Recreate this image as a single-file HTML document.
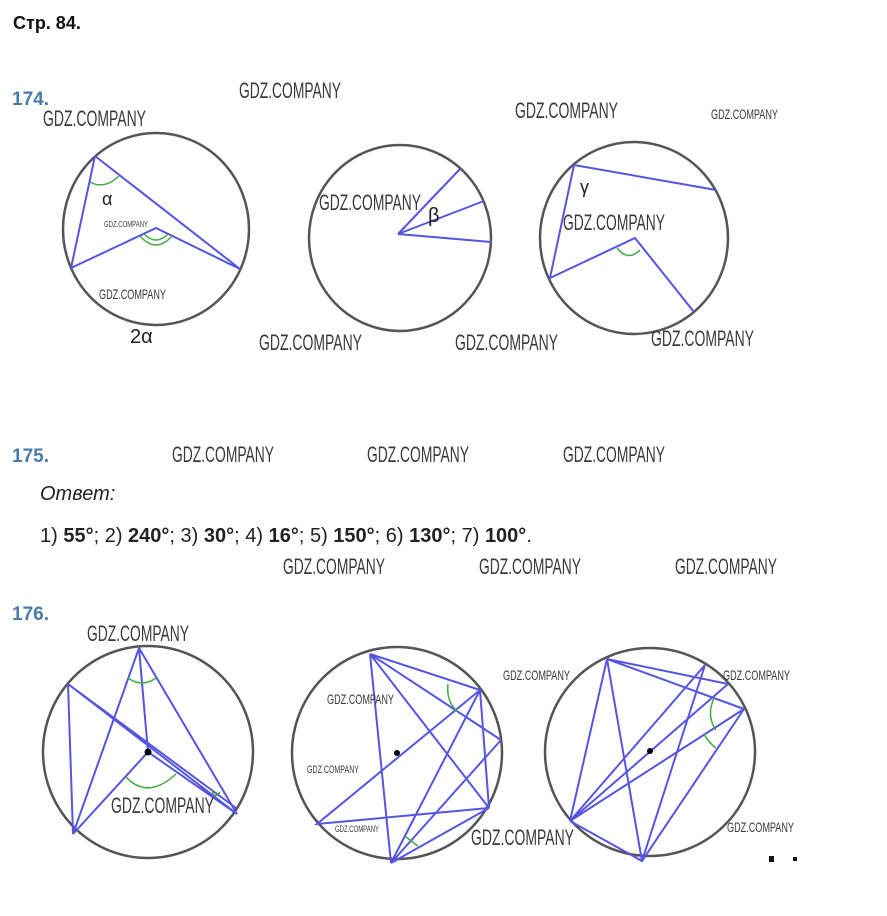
<!DOCTYPE html>
<html><head><meta charset="utf-8"><style>
html,body{margin:0;padding:0;background:#fff;width:887px;height:916px;overflow:hidden}
svg{position:absolute;left:0;top:0}
.w{font-family:"Liberation Sans",sans-serif;fill:#3a3a3a}
.b{font-family:"Liberation Sans",sans-serif;font-weight:bold;fill:#4a7aa8;font-size:19px}
.c{fill:none;stroke:#555;stroke-width:2.5}
.l{stroke:#5555e0;stroke-width:2;fill:none}
.g{stroke:#44aa44;stroke-width:1.5;fill:none}
</style></head><body>
<svg width="887" height="916" xmlns="http://www.w3.org/2000/svg">
<text x="13" y="29" font-family="Liberation Sans,sans-serif" font-weight="bold" font-size="18" fill="#111">Стр. 84.</text>
<text x="12" y="105" class="b">174.</text>
<text x="12" y="462" class="b">175.</text>
<text x="12" y="620" class="b">176.</text>
<text x="40" y="500" font-family="Liberation Sans,sans-serif" font-style="italic" font-size="20" fill="#222">Ответ:</text>
<text x="40" y="542" font-family="Liberation Sans,sans-serif" font-size="20" fill="#222">1) <tspan font-weight="bold">55°</tspan>; 2) <tspan font-weight="bold">240°</tspan>; 3) <tspan font-weight="bold">30°</tspan>; 4) <tspan font-weight="bold">16°</tspan>; 5) <tspan font-weight="bold">150°</tspan>; 6) <tspan font-weight="bold">130°</tspan>; 7) <tspan font-weight="bold">100°</tspan>.</text>

<!-- 174 -->
<ellipse class="c" cx="156" cy="229" rx="93" ry="96"/>
<path class="l" d="M95,156 L71,268 L156,228 L240,269 L95,156"/>
<path class="g" d="M90,182 Q104,190 119,176"/>
<path class="g" d="M140,236 Q156,254 172,236 M144,234 Q156,246 168,234"/>
<text x="102" y="205" font-family="Liberation Sans,sans-serif" font-size="18" fill="#222">α</text>
<text x="130" y="343" font-family="Liberation Sans,sans-serif" font-size="20" fill="#222">2α</text>

<ellipse class="c" cx="400" cy="238" rx="91" ry="93"/>
<path class="l" d="M460,169 L398,234 L484,201 M398,234 L491,242"/>
<text x="428" y="222" font-family="Liberation Sans,sans-serif" font-size="20" fill="#222">β</text>

<ellipse class="c" cx="634" cy="238" rx="94" ry="96"/>
<path class="l" d="M716,190 L574,165 L550,278 L635,238 L694,312"/>
<path class="g" d="M617,248 Q628,262 640,250"/>
<text x="580" y="193" font-family="Liberation Sans,sans-serif" font-size="18" fill="#222">γ</text>

<!-- 176 -->
<ellipse class="c" cx="148" cy="752" rx="105" ry="106"/>
<path class="l" d="M139,648 L73,834 L68,684 L237,814 L139,648 L148,752 M68,684 L236,808 M73,834 L148,752 L237,814"/>
<path class="g" d="M128,678 Q142,688 156,678 M126,777 Q148,800 176,774 M212,790 Q214,800 220,792"/>
<circle cx="148" cy="752" r="3.5" fill="#000"/>

<ellipse class="c" cx="397" cy="753" rx="105" ry="106"/>
<path class="l" d="M370,654 L391,863 M370,654 L489,808 M370,654 L501,740 M370,654 L480,690 L391,863 M480,690 L317,824 L489,808 L391,863 L501,740 M480,690 L489,808"/>
<path class="g" d="M448,684 Q446,702 458,712 M405,836 Q412,842 418,846"/>
<circle cx="397" cy="753" r="3" fill="#000"/>

<ellipse class="c" cx="650" cy="752" rx="105" ry="104"/>
<path class="l" d="M607,659 L728,684 M607,659 L744,709 M607,659 L570,821 M607,659 L642,861 M705,665 L570,821 M728,684 L570,821 M744,709 L570,821 M744,709 L642,861 L570,821 M705,665 L642,861"/>
<path class="g" d="M714,698 Q706,716 716,730 M704,734 Q708,742 716,748"/>
<circle cx="650" cy="751" r="3" fill="#000"/>
<rect x="769" y="856" width="5" height="6" fill="#111"/><rect x="793" y="857" width="4" height="4" fill="#111"/>

<!-- watermarks -->
<g class="w">
<text x="43" y="126" font-size="22" textLength="103" lengthAdjust="spacingAndGlyphs">GDZ.COMPANY</text>
<text x="239" y="98" font-size="22" textLength="102" lengthAdjust="spacingAndGlyphs">GDZ.COMPANY</text>
<text x="515" y="118" font-size="22" textLength="103" lengthAdjust="spacingAndGlyphs">GDZ.COMPANY</text>
<text x="711" y="119" font-size="14" textLength="67" lengthAdjust="spacingAndGlyphs">GDZ.COMPANY</text>
<text x="319" y="210" font-size="22" textLength="102" lengthAdjust="spacingAndGlyphs">GDZ.COMPANY</text>
<text x="104" y="227" font-size="8" textLength="44" lengthAdjust="spacingAndGlyphs">GDZ.COMPANY</text>
<text x="563" y="230" font-size="22" textLength="102" lengthAdjust="spacingAndGlyphs">GDZ.COMPANY</text>
<text x="99" y="299" font-size="14" textLength="67" lengthAdjust="spacingAndGlyphs">GDZ.COMPANY</text>
<text x="259" y="350" font-size="22" textLength="103" lengthAdjust="spacingAndGlyphs">GDZ.COMPANY</text>
<text x="455" y="350" font-size="22" textLength="103" lengthAdjust="spacingAndGlyphs">GDZ.COMPANY</text>
<text x="651" y="346" font-size="22" textLength="103" lengthAdjust="spacingAndGlyphs">GDZ.COMPANY</text>
<text x="172" y="462" font-size="22" textLength="102" lengthAdjust="spacingAndGlyphs">GDZ.COMPANY</text>
<text x="367" y="462" font-size="22" textLength="102" lengthAdjust="spacingAndGlyphs">GDZ.COMPANY</text>
<text x="563" y="462" font-size="22" textLength="102" lengthAdjust="spacingAndGlyphs">GDZ.COMPANY</text>
<text x="283" y="574" font-size="22" textLength="102" lengthAdjust="spacingAndGlyphs">GDZ.COMPANY</text>
<text x="479" y="574" font-size="22" textLength="102" lengthAdjust="spacingAndGlyphs">GDZ.COMPANY</text>
<text x="675" y="574" font-size="22" textLength="102" lengthAdjust="spacingAndGlyphs">GDZ.COMPANY</text>
<text x="87" y="641" font-size="22" textLength="102" lengthAdjust="spacingAndGlyphs">GDZ.COMPANY</text>
<text x="503" y="680" font-size="14" textLength="67" lengthAdjust="spacingAndGlyphs">GDZ.COMPANY</text>
<text x="723" y="680" font-size="14" textLength="67" lengthAdjust="spacingAndGlyphs">GDZ.COMPANY</text>
<text x="327" y="704" font-size="14" textLength="67" lengthAdjust="spacingAndGlyphs">GDZ.COMPANY</text>
<text x="307" y="773" font-size="11" textLength="52" lengthAdjust="spacingAndGlyphs">GDZ.COMPANY</text>
<text x="111" y="813" font-size="22" textLength="103" lengthAdjust="spacingAndGlyphs">GDZ.COMPANY</text>
<text x="335" y="832" font-size="9" textLength="44" lengthAdjust="spacingAndGlyphs">GDZ.COMPANY</text>
<text x="471" y="845" font-size="22" textLength="103" lengthAdjust="spacingAndGlyphs">GDZ.COMPANY</text>
<text x="727" y="832" font-size="14" textLength="67" lengthAdjust="spacingAndGlyphs">GDZ.COMPANY</text>
</g>
</svg>
</body></html>
